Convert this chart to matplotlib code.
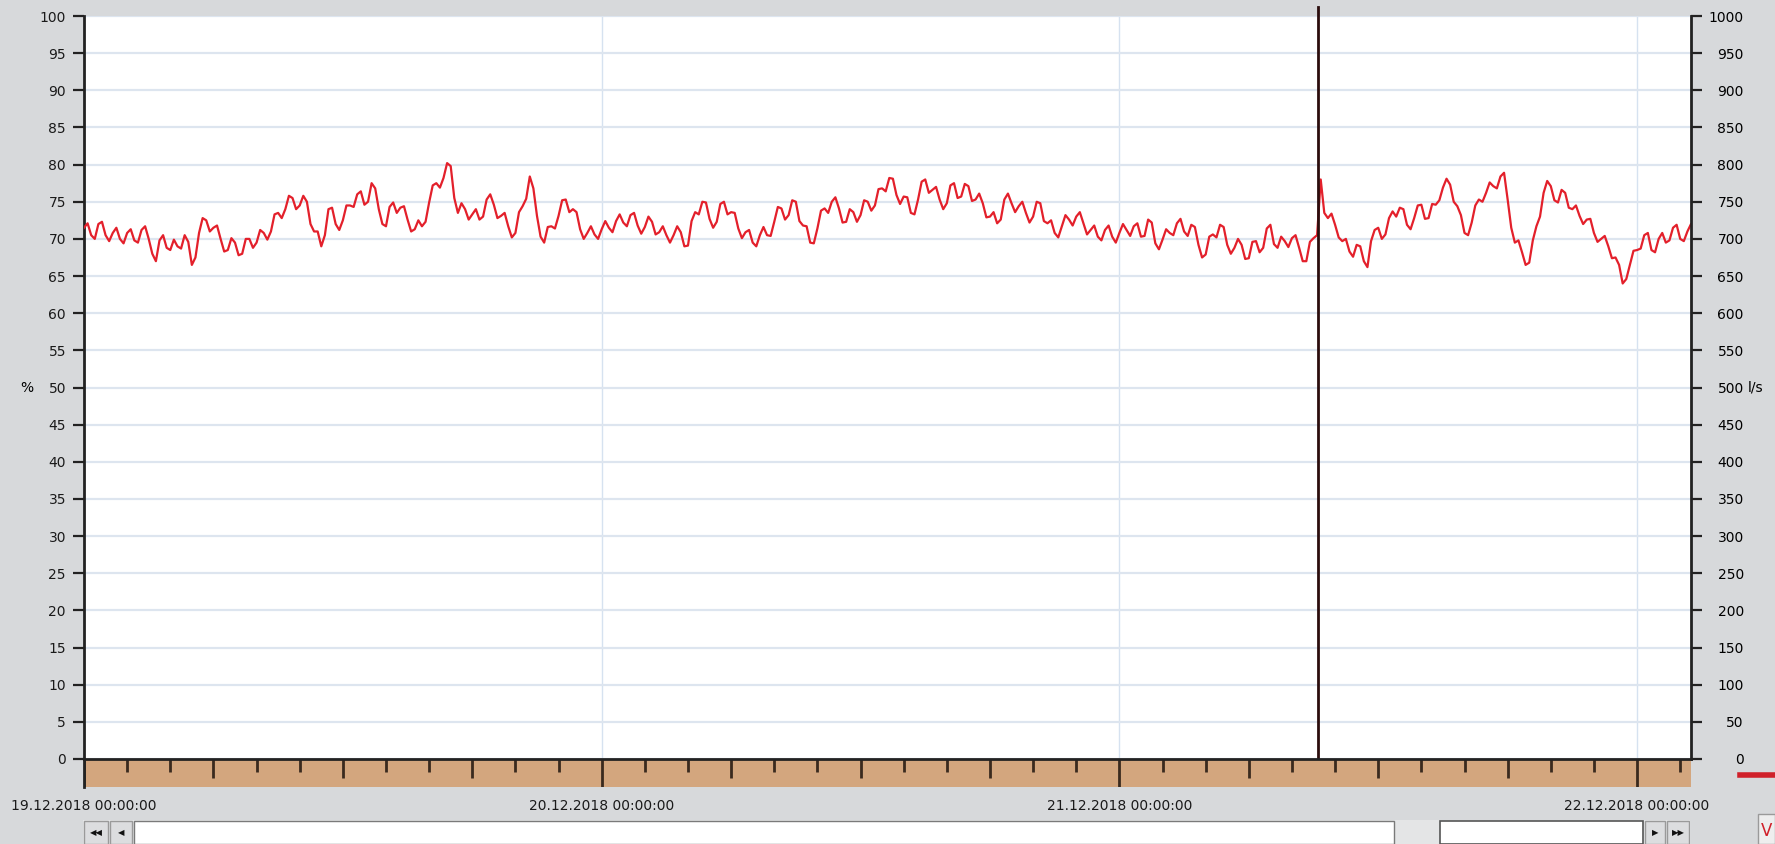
import numpy as np
import pandas as pd
import matplotlib.pyplot as plt
from matplotlib.patches import Rectangle
from matplotlib.lines import Line2D

# flow in % of range, readings at :00 / :20 / :40 from 19.12.2018 00:00
start = pd.Timestamp("2018-12-19 00:00")
flow_pct = [
    71.5, 70.5, 72.0, 70.5, 70.8, 70.0, 70.8, 69.8, 71.2, 70.0, 67.0, 70.5,
    68.5, 69.0, 70.5, 66.5, 70.8, 72.5, 71.5, 70.0, 68.5, 69.5, 68.0, 70.0,
    69.5, 70.8, 71.0, 73.5, 74.0, 75.5, 74.5, 75.0, 71.0, 69.0, 74.0, 72.0,
    72.5, 74.5, 76.0, 74.6, 77.5, 74.0, 71.7, 74.9, 74.2, 72.6, 71.3, 71.7,
    74.9, 77.5, 78.2, 79.8, 73.5, 74.0, 73.3, 72.6, 75.3, 74.6, 73.1, 71.7,
    70.8, 74.4, 78.4, 73.1, 69.5, 71.7, 73.1, 75.3, 74.0, 71.3, 70.8, 70.6,
    71.3, 71.5, 72.4, 72.2, 73.2, 71.8, 71.6, 72.3, 70.9, 70.5, 70.5, 70.9,
    69.1, 73.6, 75.0, 72.7, 72.3, 75.0, 73.6, 71.4, 70.9, 69.5, 70.5, 70.5,
    72.3, 74.1, 73.2, 75.0, 71.8, 69.5, 71.4, 74.1, 75.0, 74.1, 72.3, 73.6,
    73.2, 75.0, 74.5, 76.8, 78.2, 75.9, 75.7, 73.5, 75.3, 78.0, 76.6, 75.3,
    74.8, 77.5, 75.7, 77.1, 75.3, 74.8, 73.0, 72.1, 75.3, 74.8, 74.4, 73.5,
    73.0, 74.8, 72.1, 70.8, 71.7, 72.6, 73.0, 72.1, 71.2, 70.3, 71.2, 70.3,
    70.8, 71.2, 71.7, 70.3, 72.6, 69.4, 69.9, 70.8, 72.1, 71.0, 71.9, 69.2,
    67.9, 70.6, 71.9, 69.2, 68.8, 69.2, 67.4, 69.7, 68.8, 71.9, 68.8, 69.7,
    70.1, 68.8, 67.0, 70.1, 78.0, 72.8, 71.9, 69.7, 68.3, 69.2, 67.0, 69.7,
    71.5, 70.6, 73.7, 74.2, 71.9, 72.8, 74.6, 72.8, 74.6, 76.9, 77.3, 74.4,
    70.8, 72.2, 75.3, 76.2, 77.1, 78.4, 75.3, 69.5, 68.2, 66.8, 71.7, 76.2,
    77.1, 74.9, 76.2, 74.0, 73.1, 72.6, 70.8, 70.0, 69.0, 67.5, 64.0, 66.5,
    68.5, 70.5, 68.5, 70.0, 69.5, 71.5, 70.0, 71.0, 71.5,
]
# readings at :10 / :30 / :50 (the short spikes in between)
flow_mid = [
    72.1, 70.0, 72.3, 69.7, 71.5, 69.4, 71.3, 69.5, 71.7, 68.0, 69.8, 68.8,
    69.9, 68.7, 69.6, 67.5, 72.8, 71.0, 71.8, 68.3, 70.1, 67.8, 70.0, 68.8,
    71.2, 69.9, 73.3, 72.8, 75.8, 74.0, 75.8, 72.0, 71.0, 70.5, 74.2, 71.2,
    74.5, 74.3, 76.4, 75.0, 76.8, 72.0, 74.3, 73.5, 74.4, 71.0, 72.5, 72.3,
    77.2, 76.9, 80.2, 75.5, 74.8, 72.6, 74.0, 73.0, 76.0, 72.8, 73.5, 70.2,
    73.6, 75.4, 76.8, 70.3, 71.6, 71.4, 75.2, 73.6, 73.6, 70.0, 71.7, 70.0,
    72.4, 70.9, 73.3, 71.7, 73.5, 70.7, 73.0, 70.6, 71.7, 69.5, 71.7, 69.0,
    72.4, 73.3, 74.9, 71.5, 74.7, 73.3, 73.5, 70.1, 71.2, 69.0, 71.6, 70.4,
    74.3, 72.6, 75.2, 72.4, 71.7, 69.4, 73.8, 73.5, 75.6, 72.2, 74.0, 72.3,
    75.2, 73.8, 76.7, 76.4, 78.1, 74.7, 75.6, 73.3, 77.7, 76.2, 77.0, 74.0,
    77.2, 75.5, 77.4, 75.1, 76.1, 72.9, 73.6, 72.6, 76.1, 73.6, 75.0, 72.2,
    75.0, 72.4, 72.5, 70.2, 73.2, 71.8, 73.6, 70.6, 71.8, 69.8, 71.8, 69.5,
    72.0, 70.4, 72.1, 70.4, 72.2, 68.6, 71.3, 70.5, 72.7, 70.4, 71.6, 67.5,
    70.3, 70.2, 71.6, 68.0, 70.0, 67.3, 69.6, 68.2, 71.4, 69.3, 70.3, 68.9,
    70.5, 67.0, 69.6, 70.5, 73.5, 73.4, 70.2, 70.0, 67.6, 69.0, 66.2, 71.2,
    70.0, 72.8, 73.0, 74.0, 71.3, 74.5, 72.7, 74.7, 75.2, 78.1, 75.0, 73.2,
    70.5, 74.5, 75.0, 77.6, 76.8, 78.9, 71.5, 69.8, 66.5, 69.8, 73.0, 77.8,
    75.2, 76.6, 74.2, 74.5, 72.0, 72.7, 69.6, 70.4, 67.4, 66.5, 64.6, 68.4,
    68.7, 70.8, 68.2, 70.8, 69.8, 71.9, 69.7, 72.0,
]
flow = np.empty(len(flow_pct) + len(flow_mid))
flow[0::2] = flow_pct
flow[1::2] = flow_mid
times = pd.date_range(start, periods=len(flow), freq="10min")

pct_ticks = list(range(0, 101, 5))
ls_ticks = list(range(0, 1001, 50))
days = pd.date_range("2018-12-19", "2018-12-22", freq="D")
day_labels = [d.strftime("%d.%m.%Y 00:00:00") for d in days]
cursor_time = pd.Timestamp("2018-12-21 09:12")
x_end = start + pd.Timedelta(hours=74.5)

W, H = 1775, 844
bg = "#d7d9db"
dark = "#222222"
plt.rcParams["font.family"] = "DejaVu Sans"
plt.rcParams["font.size"] = 10

fig = plt.figure(figsize=(W / 100, H / 100), dpi=100, facecolor=bg)

top, bot, left, right = 16, 759, 84, 1691
ax = fig.add_axes([left / W, 1 - bot / H, (right - left) / W, (bot - top) / H])
ax.set_facecolor("white")
ax.plot(times, flow, color="#e3202b", lw=1.6, zorder=3)
ax.set_xlim(start, x_end)
ax.set_ylim(0, 100)
ax.set_yticks(pct_ticks)
ax.set_xticks(days)
ax.tick_params(axis="x", length=0, labelbottom=False)
ax.tick_params(axis="y", length=8, width=1.6, color=dark, pad=5, labelcolor="#1a1a1a")
ax.grid(axis="y", color="#dde5ef", lw=1.6)
ax.grid(axis="x", color="#d6e2f0", lw=1.0)
for s in ["top", "right", "bottom"]:
    ax.spines[s].set_visible(False)
ax.spines["left"].set_color(dark)
ax.spines["left"].set_linewidth(2)
ax.axvline(cursor_time, color="#2b0d0d", lw=2, ymax=1.012, clip_on=False, zorder=5)
ax.annotate("%", xy=(0, 50), xycoords=("axes fraction", "data"),
            xytext=(-41, 0), textcoords="offset points", ha="center", va="center")

ax2 = ax.twinx()
ax2.set_ylim(0, 1000)
ax2.set_yticks(ls_ticks)
ax2.tick_params(axis="y", length=8, width=1.6, color=dark, pad=30)
for lbl in ax2.get_yticklabels():
    lbl.set_horizontalalignment("right")
for s in ["top", "left", "bottom"]:
    ax2.spines[s].set_visible(False)
ax2.spines["right"].set_color(dark)
ax2.spines["right"].set_linewidth(2)
ax2.annotate("l/s", xy=(1, 500), xycoords=("axes fraction", "data"),
             xytext=(41, 0), textcoords="offset points", ha="left", va="center")

# time band with hour ticks
band_bot = 787
axb = fig.add_axes([left / W, 1 - band_bot / H, (right - left) / W, (band_bot - bot) / H])
axb.set_facecolor("#d3a67e")
axb.set_xlim(start, x_end)
axb.set_ylim(0, 1)
axb.set_yticks([])
for t in pd.date_range(start, x_end, freq="2h"):
    hrs = int((t - start).total_seconds() // 3600)
    if hrs % 24 == 0:
        y0 = 0.0
    elif hrs % 6 == 0:
        y0 = 0.33
    else:
        y0 = 0.52
    axb.vlines(t, y0, 1, color="#3a2a1e", lw=2)
axb.set_xticks(days)
axb.set_xticklabels(day_labels)
axb.tick_params(axis="x", length=0, pad=9, labelcolor="#1a1a1a")
for s in ["right", "bottom"]:
    axb.spines[s].set_visible(False)
axb.spines["top"].set_color(dark)
axb.spines["top"].set_linewidth(2)
axb.spines["left"].set_color(dark)
axb.spines["left"].set_linewidth(2)

# scroll bar along the bottom
axs = fig.add_axes([83 / W, 0, (1690 - 83) / W, 24 / H])
axs.set_xlim(83, 1690)
axs.set_ylim(0, 24)
axs.axis("off")
axs.add_patch(Rectangle((83, 0), 1607, 24, facecolor="#e4e5e6", edgecolor="none"))
axs.add_patch(Rectangle((134, 0), 1260, 23, facecolor="white", edgecolor="#7a7a7a", lw=1))
axs.add_patch(Rectangle((1440, 0), 203, 23, facecolor="white", edgecolor="#555555", lw=1.2))
for x0, w, txt in [(84, 24, "◀◀"), (110, 22, "◀"), (1645, 20, "▶"), (1667, 22, "▶▶")]:
    axs.add_patch(Rectangle((x0, 0), w, 23, facecolor="#dcdddf", edgecolor="#9a9a9a", lw=1))
    axs.text(x0 + w / 2, 11, txt, ha="center", va="center", fontsize=6, color="#111111")

# legend swatch and icon at the right edge
fig.add_artist(Line2D([1740 / W, 1.0], [1 - 775 / H, 1 - 775 / H], color="#d0202a", lw=4))
fig.add_artist(Rectangle((1758 / W, 0), 17 / W, 30 / H, transform=fig.transFigure,
                         facecolor="#eeeeee", edgecolor="#9a9a9a", lw=1))
fig.text(1767 / W, 13 / H, "V", color="#d0202a", ha="center", va="center", fontsize=12)

fig.savefig("out.png", dpi=100, facecolor=bg)
